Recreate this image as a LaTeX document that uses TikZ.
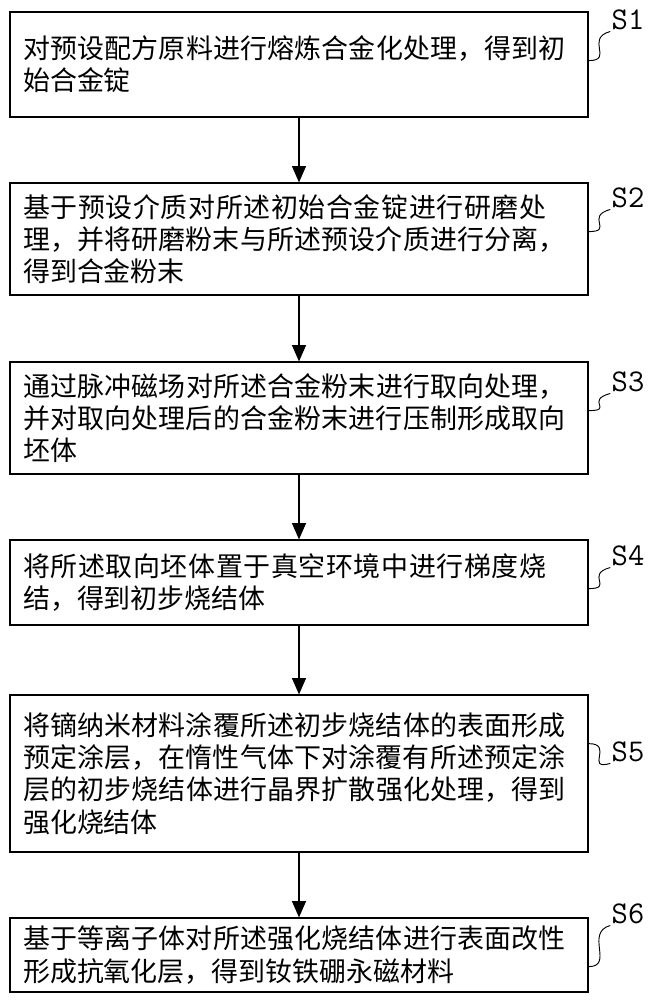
\documentclass[tikz,border=0pt]{standalone}
\usepackage{fontspec}
\newfontfamily\cjk{Noto Sans CJK SC}
\XeTeXlinebreaklocale "zh"
\XeTeXlinebreakskip=0pt plus 1pt
\usetikzlibrary{positioning,arrows.meta}
\begin{document}
\begin{tikzpicture}[x=0.03cm,y=-0.03cm,font=\cjk\fontsize{23pt}{27.5pt}\selectfont]
    \tikzstyle{stepbox}=[draw,line width=1pt,minimum width=17.34cm,text width=16.55cm,align=left,inner sep=0pt]
    \tikzstyle{flow}=[-{Triangle[length=14pt,width=12pt]},line width=1pt]
    \tikzstyle{tag}=[font=\fontsize{27pt}{27pt}\selectfont\ttfamily,inner sep=1pt]
    \useasboundingbox (0,0) rectangle (651,1000);

    %%% DRAW THE STEPS
    \node[stepbox,minimum height=3.15cm] (S1) at (299,64.5) {对预设配方原料进行熔炼合金化处理，得到初始合金锭};
    \node[stepbox,minimum height=3.36cm] (S2) at (299,239) {基于预设介质对所述初始合金锭进行研磨处理，并将研磨粉末与所述预设介质进行分离，得到合金粉末};
    \node[stepbox,minimum height=3.36cm] (S3) at (299,418) {通过脉冲磁场对所述合金粉末进行取向处理，并对取向处理后的合金粉末进行压制形成取向坯体};
    \node[stepbox,minimum height=2.55cm] (S4) at (299,582.5) {将所述取向坯体置于真空环境中进行梯度烧结，得到初步烧结体};
    \node[stepbox,minimum height=4.71cm] (S5) at (299,773.5) {将镝纳米材料涂覆所述初步烧结体的表面形成预定涂层，在惰性气体下对涂覆有所述预定涂层的初步烧结体进行晶界扩散强化处理，得到强化烧结体};
    \node[stepbox,minimum height=2.22cm] (S6) at (299,955) {基于等离子体对所述强化烧结体进行表面改性形成抗氧化层，得到钕铁硼永磁材料};

    %%% DRAW THE ARROWS
    \foreach \a/\b in {S1/S2,S2/S3,S3/S4,S4/S5,S5/S6}
        \draw[flow] (\a) -- (\b);

    %%% STEP TAGS
    \foreach \s/\y in {S1/20,S2/198,S3/382,S4/556,S5/752,S6/914} {
        \node[tag] (T-\s) at (628,\y) {\s};
        \coordinate (E-\s) at ([yshift=-42pt]\s.north east);
        \draw[line width=0.8pt] (E-\s) .. controls +(22pt,0pt) and +(-22pt,-6pt) .. (T-\s.south west);
    }
\end{tikzpicture}
\end{document}
